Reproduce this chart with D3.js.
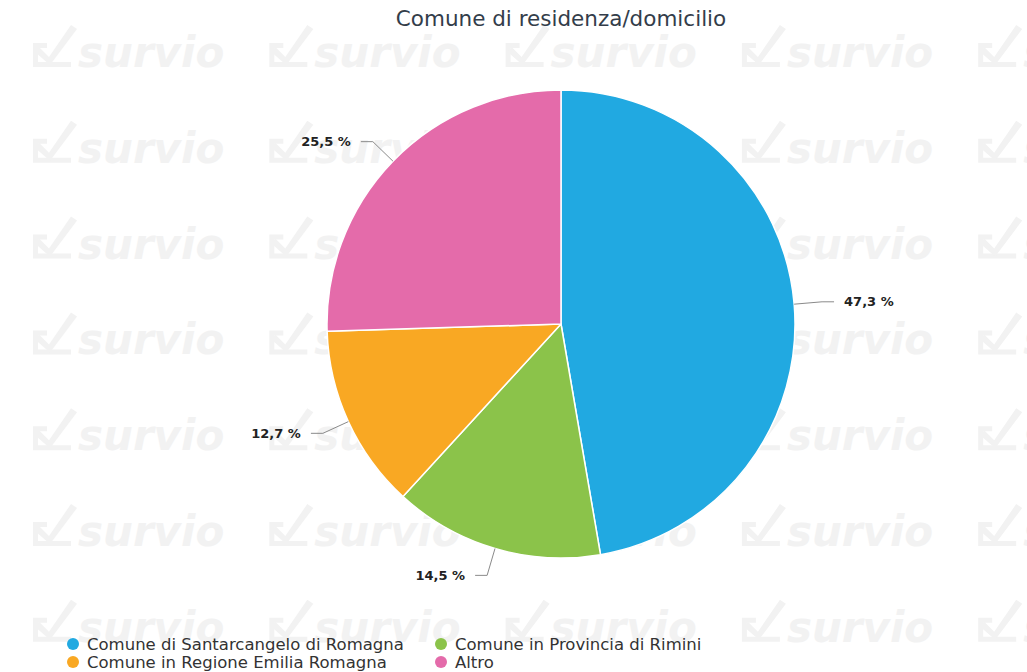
<!DOCTYPE html>
<html><head><meta charset="utf-8">
<script src="https://cdn.jsdelivr.net/npm/d3@7"></script>
<style>html,body{margin:0;padding:0;background:#fff;}svg{display:block;}</style>
</head><body>
<script>
const categories = ["Comune di Santarcangelo di Romagna", "Comune in Provincia di Rimini", "Comune in Regione Emilia Romagna", "Altro"];
const values = [47.3, 14.5, 12.7, 25.5];
const colors = ["#21a9e1", "#8bc34a", "#f9a823", "#e46baa"];
const title = "Comune di residenza/domicilio";

const W = 1027, H = 672;
const svg = d3.select("body").append("svg").attr("width", W).attr("height", H);

// watermark
const wm = svg.append("g").attr("fill", "#f2f2f2");
const wmCols = d3.range(5), wmRows = d3.range(7);
wmRows.forEach(r => wmCols.forEach(c => {
  const x = 33 + c * 236.3, y = 67 + r * 95.8;
  const g = wm.append("g").attr("transform", `translate(${x},${y})`);
  g.append("path").attr("d", "M0,-24 L14,-24 L14,-19 L5,-19 L5,-5 L38,-5 L38,0 L0,0 Z");
  g.append("path").attr("d", "M6,-20 L16,-10 L38,-42 L44,-38 L17,-2 L2,-15 Z");
  g.append("text").attr("x", 45).attr("y", 0)
    .attr("font-family", "DejaVu Sans").attr("font-weight", "bold").attr("font-style", "italic")
    .attr("font-size", 42).text("survio");
}));

svg.append("text").attr("x", 561).attr("y", 26).attr("text-anchor", "middle")
  .attr("font-family", "DejaVu Sans").attr("font-size", 21.5).attr("fill", "#333d4a").text(title);

const cx = 561, cy = 324, R = 234;
const pie = d3.pie().sort(null).value(d => d)(values);
const arc = d3.arc().innerRadius(0).outerRadius(R);
const g = svg.append("g").attr("transform", `translate(${cx},${cy})`);
g.selectAll("path.s").data(pie).join("path").attr("class", "s")
  .attr("d", arc).attr("fill", (d, i) => colors[i])
  .attr("stroke", "#fff").attr("stroke-width", 1.5).attr("stroke-linejoin", "round");

pie.forEach((d, i) => {
  const a = (d.startAngle + d.endAngle) / 2;
  const s = Math.sin(a), c = -Math.cos(a);
  const p0 = [s * R, c * R];
  const p1 = [s * (R + 28), c * (R + 28)];
  const dir = s >= 0 ? 1 : -1;
  const p2 = [p1[0] + dir * 12, p1[1]];
  g.append("polyline").attr("points", [p0, p1, p2].map(p => p.join(",")).join(" "))
    .attr("fill", "none").attr("stroke", "#8a8a8a").attr("stroke-width", 1);
  g.append("text").attr("x", p2[0] + dir * 10).attr("y", p2[1]).attr("dy", "0.35em")
    .attr("text-anchor", dir > 0 ? "start" : "end")
    .attr("font-family", "DejaVu Sans").attr("font-weight", "bold").attr("font-size", 13)
    .attr("fill", "#222").text(d3.format(".1f")(values[i]).replace(".", ",") + " %");
});

// legend
const legPos = [[73, 644], [441, 644], [73, 662], [441, 662]];
categories.forEach((name, i) => {
  const [x, y] = legPos[i];
  svg.append("circle").attr("cx", x).attr("cy", y).attr("r", 6).attr("fill", colors[i]);
  svg.append("text").attr("x", x + 14).attr("y", y).attr("dy", "0.35em")
    .attr("font-family", "DejaVu Sans").attr("font-size", 16.5).attr("fill", "#333").text(name);
});
</script>
</body></html>
